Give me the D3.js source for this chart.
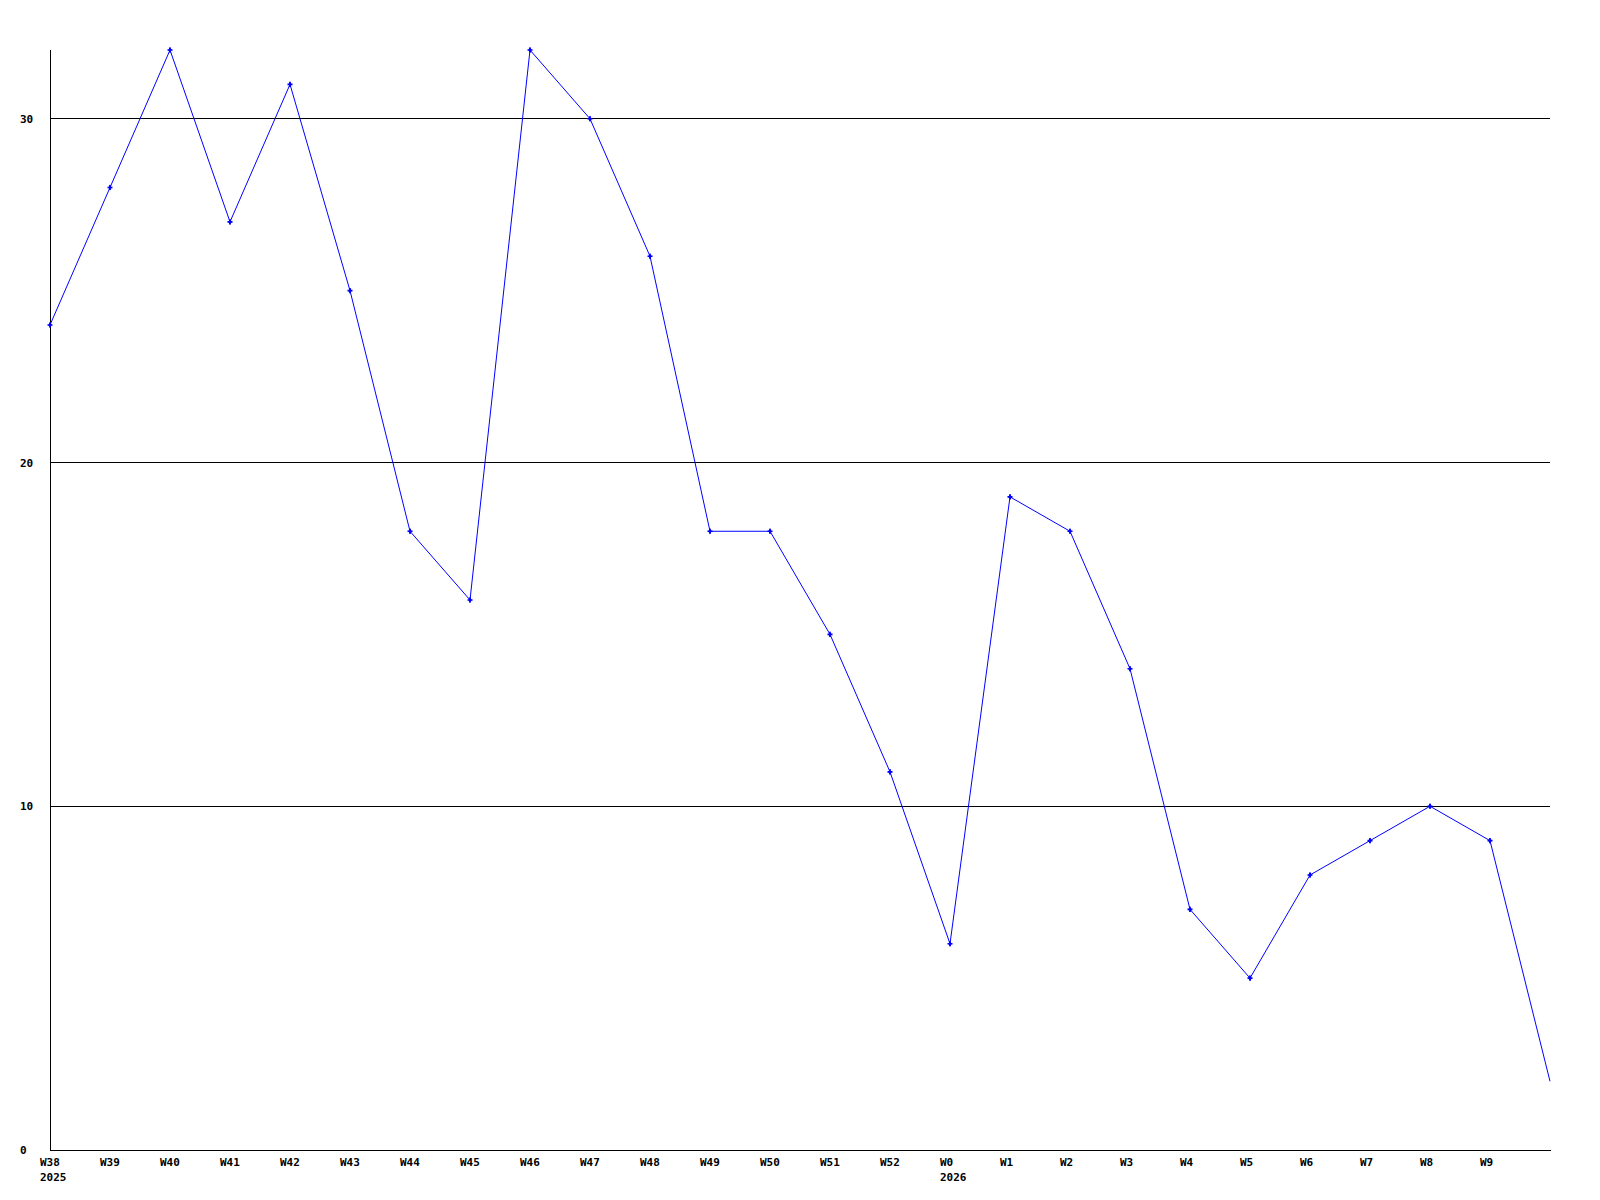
<!DOCTYPE html>
<html>
  <head>
    <meta charset="utf-8">
    <script src="https://cdn.jsdelivr.net/npm/d3@7"></script>
    <style>
      body { margin: 0; background: #fff; }
      text { font-family: "DejaVu Sans Mono", monospace; font-size: 11px; font-weight: bold; fill: #000; }
    </style>
  </head>
  <body>
    <svg id="chart"></svg>
    <script>
// weeks along the x axis, last slot is the current (unlabelled) week
let weeks = ['W38', 'W39', 'W40', 'W41', 'W42', 'W43', 'W44', 'W45', 'W46', 'W47', 'W48', 'W49', 'W50',
  'W51', 'W52', 'W0', 'W1', 'W2', 'W3', 'W4', 'W5', 'W6', 'W7', 'W8', 'W9', ''];
let years = {'W38': '2025', 'W0': '2026'};
let counts = [24, 28, 32, 27, 31, 25, 18, 16, 32, 30, 26, 18, 18, 15, 11, 6, 19, 18, 14, 7, 5, 8, 9, 10, 9, 2];
let yTicks = [0, 10, 20, 30];

let width = 1600, height = 1200;
let plotLeft = 50, plotRight = 1550, plotTop = 50, plotBottom = 1150;

let svg = d3.select('#chart')
  .attr('width', width)
  .attr('height', height);

let x = d3.scalePoint()
  .domain(d3.range(weeks.length))
  .range([plotLeft, plotRight]);

let y = d3.scaleLinear()
  .domain([0, 32])
  .range([plotBottom, plotTop]);

// horizontal grid lines
svg.append('g')
  .selectAll('line')
  .data(yTicks.filter(d => d > 0))
  .enter()
  .append('line')
  .attr('x1', plotLeft)
  .attr('x2', plotRight)
  .attr('y1', d => Math.floor(y(d)) + 0.5)
  .attr('y2', d => Math.floor(y(d)) + 0.5)
  .attr('stroke', '#000')
  .attr('shape-rendering', 'crispEdges');

// axes
svg.append('line')
  .attr('x1', plotLeft + 0.5).attr('x2', plotLeft + 0.5)
  .attr('y1', plotTop).attr('y2', plotBottom + 1)
  .attr('stroke', '#000')
  .attr('shape-rendering', 'crispEdges');
svg.append('line')
  .attr('x1', plotLeft).attr('x2', plotRight + 1)
  .attr('y1', plotBottom + 0.5).attr('y2', plotBottom + 0.5)
  .attr('stroke', '#000')
  .attr('shape-rendering', 'crispEdges');

// y labels
svg.append('g')
  .selectAll('text')
  .data(yTicks)
  .enter()
  .append('text')
  .attr('x', 20)
  .attr('y', d => y(d) + 4)
  .text(d => d);

// x labels, left edge 10px before the point
let xl = svg.append('g');
weeks.forEach((w, i) => {
  if (!w) return;
  xl.append('text')
    .attr('x', x(i) - 10)
    .attr('y', 1166)
    .text(w);
  if (years[w]) {
    xl.append('text')
      .attr('x', x(i) - 10)
      .attr('y', 1181)
      .text(years[w]);
  }
});

// data line
let line = d3.line()
  .x((d, i) => x(i))
  .y(d => y(d));

svg.append('path')
  .datum(counts)
  .attr('d', line)
  .attr('fill', 'none')
  .attr('stroke', '#0000ff')
  .attr('stroke-width', 1);

// small markers on every labelled week
let marks = svg.append('g')
  .selectAll('g')
  .data(counts.slice(0, counts.length - 1))
  .enter()
  .append('g')
  .attr('transform', (d, i) => 'translate(' + x(i) + ',' + y(d) + ')')
  .attr('fill', '#0000ff');
marks.append('path')
  .attr('d', d3.symbol().type(d3.symbolCross).size(14));
marks.append('path')
  .attr('d', d3.symbol().type(d3.symbolDiamond).size(10));
    </script>
  </body>
</html>
